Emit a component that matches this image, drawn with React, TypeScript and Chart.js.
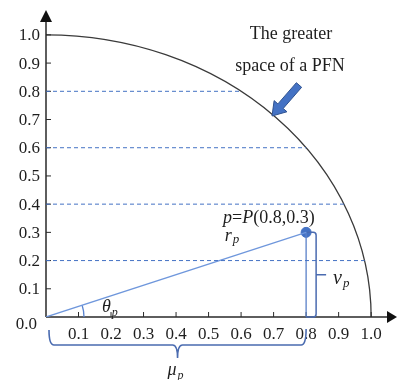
import React, { useEffect, useRef } from "react";
import { Chart, registerables } from "chart.js";

Chart.register(...registerables);

// ---- data ----
const xTickValues = [0.1, 0.2, 0.3, 0.4, 0.5, 0.6, 0.7, 0.8, 0.9, 1.0];
const xTickLabels = ["0.1", "0.2", "0.3", "0.4", "0.5", "0.6", "0.7", "0.8", "0.9", "1.0"];
const yTickValues = [0.0, 0.1, 0.2, 0.3, 0.4, 0.5, 0.6, 0.7, 0.8, 0.9, 1.0];
const yTickLabels = ["0.0", "0.1", "0.2", "0.3", "0.4", "0.5", "0.6", "0.7", "0.8", "0.9", "1.0"];
const guideLevels = [0.8, 0.6, 0.4, 0.2];
const guideEnds = [0.6, 0.8, 0.92, 0.98];
const pointP = [0.8, 0.3];
const unitRadius = [1];
const annotationLines = ["The greater", "space of a PFN"];
const pointLabel = ["p", "=", "P", "(0.8,0.3)"];

const SERIF = '"Liberation Serif", "Times New Roman", serif';
const BLUE = "#4472C4";
const DARKBLUE = "#4A6BB0";
const TEXT = "#1e1e1e";

function subLabel(ctx: CanvasRenderingContext2D, base: string, sub: string, x: number, y: number, size: number, subSize: number, subDy: number) {
  ctx.font = `italic ${size}px ${SERIF}`;
  ctx.textAlign = "left";
  ctx.textBaseline = "alphabetic";
  ctx.fillText(base, x, y);
  const w = ctx.measureText(base).width;
  ctx.font = `italic ${subSize}px ${SERIF}`;
  ctx.fillText(sub, x + w + 1, y + subDy);
}

const overlay = {
  id: "overlay",
  beforeDatasetsDraw(chart: any) {
    const { ctx, scales, chartArea } = chart;
    const X = (v: number) => scales.x.getPixelForValue(v);
    const Y = (v: number) => scales.y.getPixelForValue(v);
    const x0 = X(0), y0 = Y(0);
    ctx.save();
    // quarter circle (unit radius)
    ctx.strokeStyle = "#3a3a3a";
    ctx.lineWidth = 1.3;
    ctx.beginPath();
    ctx.ellipse(x0, y0, X(unitRadius[0]) - x0, y0 - Y(unitRadius[0]), 0, -Math.PI / 2, 0);
    ctx.stroke();

    // axes
    ctx.strokeStyle = "#2a2a2a";
    ctx.fillStyle = "#111";
    ctx.lineWidth = 1.5;
    ctx.beginPath();
    ctx.moveTo(x0, y0);
    ctx.lineTo(chartArea.right - 2, y0);
    ctx.moveTo(x0, y0);
    ctx.lineTo(x0, chartArea.top + 8);
    ctx.stroke();
    // arrowheads
    ctx.beginPath();
    ctx.moveTo(chartArea.right + 7, y0);
    ctx.lineTo(chartArea.right - 3, y0 - 6);
    ctx.lineTo(chartArea.right - 3, y0 + 6);
    ctx.closePath();
    ctx.fill();
    ctx.beginPath();
    ctx.moveTo(x0, chartArea.top - 4);
    ctx.lineTo(x0 - 6, chartArea.top + 8);
    ctx.lineTo(x0 + 6, chartArea.top + 8);
    ctx.closePath();
    ctx.fill();

    // tick marks (inward)
    ctx.lineWidth = 1;
    ctx.beginPath();
    yTickValues.forEach((v) => {
      if (v === 0) return;
      ctx.moveTo(x0, Y(v));
      ctx.lineTo(x0 + 5, Y(v));
    });
    xTickValues.forEach((v) => {
      ctx.moveTo(X(v), y0);
      ctx.lineTo(X(v), y0 - 5);
    });
    ctx.stroke();

    // tick labels
    ctx.fillStyle = TEXT;
    ctx.font = `17px ${SERIF}`;
    ctx.textBaseline = "middle";
    ctx.textAlign = "right";
    yTickValues.forEach((v, i) => {
      if (v === 0) {
        ctx.fillText(yTickLabels[i], x0 - 9, y0 + 8);
      } else {
        ctx.fillText(yTickLabels[i], x0 - 6, Y(v) + 1);
      }
    });
    ctx.textAlign = "center";
    xTickValues.forEach((v, i) => {
      ctx.fillText(xTickLabels[i], X(v), y0 + 18);
    });

    // angle arc theta
    const ang = Math.atan2(y0 - Y(pointP[1]), X(pointP[0]) - x0);
    ctx.strokeStyle = "#5a84d0";
    ctx.lineWidth = 1.3;
    ctx.beginPath();
    ctx.arc(x0, y0, 38, -ang, 0);
    ctx.stroke();
    ctx.restore();
  },
  afterDatasetsDraw(chart: any) {
    const { ctx, scales } = chart;
    const X = (v: number) => scales.x.getPixelForValue(v);
    const Y = (v: number) => scales.y.getPixelForValue(v);
    const x0 = X(0), y0 = Y(0);
    const px = X(pointP[0]), py = Y(pointP[1]);
    ctx.save();

    // right bracket (nu_p)
    ctx.strokeStyle = DARKBLUE;
    ctx.lineWidth = 1.5;
    const bx = px + 10, r = 3;
    ctx.beginPath();
    ctx.moveTo(px + 1, py);
    ctx.lineTo(bx - r, py);
    ctx.quadraticCurveTo(bx, py, bx, py + r);
    ctx.lineTo(bx, y0 - r);
    ctx.quadraticCurveTo(bx, y0, bx - r, y0);
    ctx.lineTo(px, y0);
    const my = (py + y0) / 2;
    ctx.moveTo(bx, my);
    ctx.lineTo(bx + 10, my);
    ctx.stroke();

    // bottom curly brace (mu_p)
    const by = y0 + 28, L = x0 + 3, R = px, M = (L + R) / 2, rr = 5;
    ctx.lineWidth = 1.6;
    ctx.beginPath();
    ctx.moveTo(L, by - 15);
    ctx.quadraticCurveTo(L, by, L + rr, by);
    ctx.lineTo(M - rr, by);
    ctx.quadraticCurveTo(M, by, M, by + 13);
    ctx.quadraticCurveTo(M, by, M + rr, by);
    ctx.lineTo(R - rr, by);
    ctx.quadraticCurveTo(R, by, R, by - 16);
    ctx.stroke();

    // symbol labels
    ctx.fillStyle = TEXT;
    subLabel(ctx, "\u03BC", "p", M - 10, by + 30, 18, 12, 4);
    subLabel(ctx, "\u03B8", "p", x0 + 56, y0 - 5, 18, 12, 4);
    subLabel(ctx, "r", "p", X(0.55), Y(0.27), 18, 13, 2);
    subLabel(ctx, "\u03BD", "p", bx + 17, my + 9, 20, 13, 3);

    // point label p=P(0.8,0.3)
    let tx = px - 83;
    const ty = py - 9;
    ctx.textBaseline = "alphabetic";
    ctx.textAlign = "left";
    pointLabel.forEach((s, i) => {
      ctx.font = (i === 0 || i === 2 ? "italic " : "") + `18px ${SERIF}`;
      ctx.fillText(s, tx, ty);
      tx += ctx.measureText(s).width;
    });

    // annotation text
    ctx.font = `18px ${SERIF}`;
    ctx.textAlign = "center";
    ctx.fillText(annotationLines[0], 291, 39);
    ctx.fillText(annotationLines[1], 290, 71);

    // block arrow pointing at the arc
    const tail = [299, 85], tip = [272, 116];
    const dx = tip[0] - tail[0], dy = tip[1] - tail[1];
    const len = Math.hypot(dx, dy);
    const ux = dx / len, uy = dy / len, nx = -uy, ny = ux;
    const sw = 3.5, hw = 8.5, hl = 13;
    const hb = [tip[0] - ux * hl, tip[1] - uy * hl];
    ctx.beginPath();
    ctx.moveTo(tail[0] + nx * sw, tail[1] + ny * sw);
    ctx.lineTo(hb[0] + nx * sw, hb[1] + ny * sw);
    ctx.lineTo(hb[0] + nx * hw, hb[1] + ny * hw);
    ctx.lineTo(tip[0], tip[1]);
    ctx.lineTo(hb[0] - nx * hw, hb[1] - ny * hw);
    ctx.lineTo(hb[0] - nx * sw, hb[1] - ny * sw);
    ctx.lineTo(tail[0] - nx * sw, tail[1] - ny * sw);
    ctx.closePath();
    ctx.fillStyle = BLUE;
    ctx.fill();
    ctx.strokeStyle = "#2F528F";
    ctx.lineWidth = 1;
    ctx.stroke();
    ctx.restore();
  },
};

export default function App() {
  const ref = useRef<HTMLCanvasElement | null>(null);
  useEffect(() => {
    if (!ref.current) return;
    const guideSets = guideLevels.map((lvl, i) => ({
      data: [
        { x: 0, y: lvl },
        { x: guideEnds[i], y: lvl },
      ],
      showLine: true,
      borderColor: BLUE,
      borderWidth: 1,
      borderDash: [4, 3],
      pointRadius: 0,
    }));
    const chart = new Chart(ref.current, {
      type: "scatter",
      data: {
        datasets: [
          ...guideSets,
          {
            data: [
              { x: 0, y: 0 },
              { x: pointP[0], y: pointP[1] },
            ],
            showLine: true,
            borderColor: "#6F97DC",
            borderWidth: 1.3,
            pointRadius: 0,
          },
          {
            data: [
              { x: pointP[0], y: pointP[1] },
              { x: pointP[0], y: 0 },
            ],
            showLine: true,
            borderColor: "#5A80C8",
            borderWidth: 1.3,
            pointRadius: 0,
          },
          {
            data: [{ x: pointP[0], y: pointP[1] }],
            pointRadius: 5,
            pointBackgroundColor: BLUE,
            pointBorderColor: BLUE,
          },
        ] as any,
      },
      options: {
        responsive: false,
        animation: false,
        layout: { padding: { left: 46, right: 8, top: 14, bottom: 63 } },
        plugins: { legend: { display: false }, tooltip: { enabled: false } },
        scales: {
          x: { type: "linear", min: 0, max: 1.058, display: false },
          y: { type: "linear", min: 0, max: 1.074, display: false },
        },
      },
      plugins: [overlay],
    });
    return () => chart.destroy();
  }, []);
  return (
    <div style={{ position: "absolute", left: 0, top: 0, width: 398, height: 380, background: "#fff" }}>
      <canvas ref={ref} width={398} height={380} />
    </div>
  );
}
